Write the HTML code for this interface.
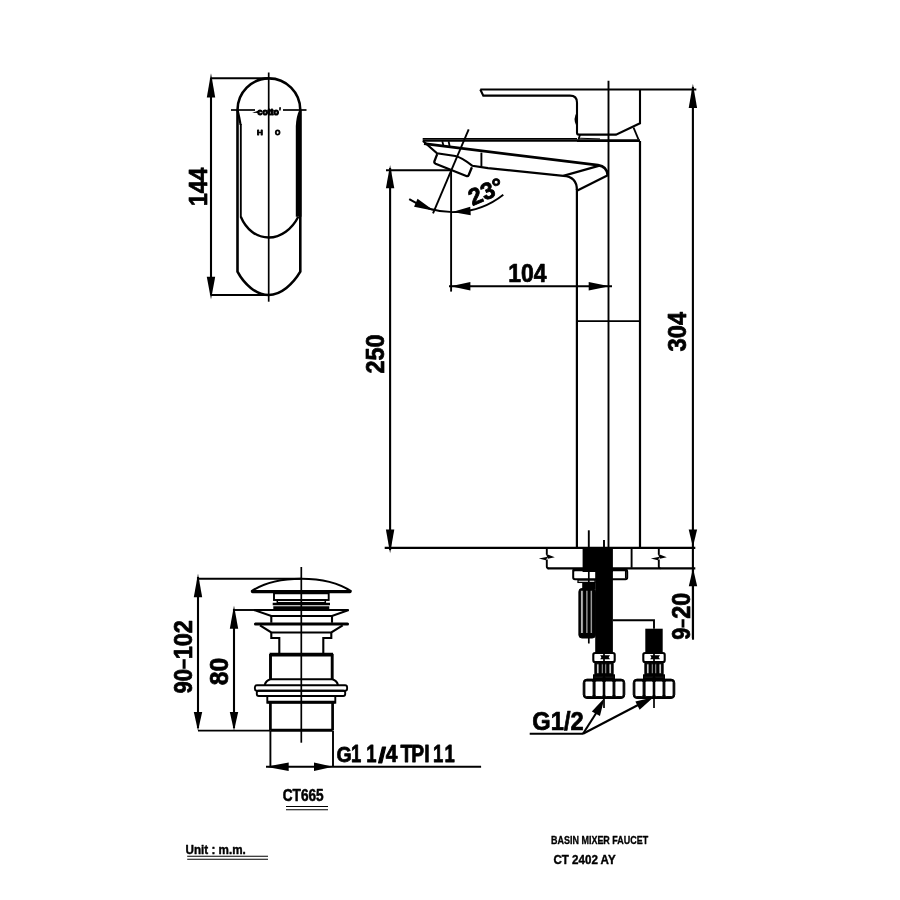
<!DOCTYPE html>
<html><head><meta charset="utf-8"><style>
html,body{margin:0;padding:0;background:#fff;width:900px;height:900px;overflow:hidden}
svg{display:block;filter:grayscale(1)}
text{font-family:"Liberation Sans",sans-serif;fill:#000}
</style></head><body>
<svg width="900" height="900" viewBox="0 0 900 900" stroke="#000" fill="none">
<line x1="211" y1="78" x2="211" y2="295" stroke-width="2.1" stroke-linecap="butt"/>
<path d="M211.00 73.30 L215.20 97.50 L206.80 97.50 Z" fill="#000" stroke="none"/>
<path d="M211.00 299.50 L206.80 276.70 L215.20 276.70 Z" fill="#000" stroke="none"/>
<line x1="210.8" y1="78.3" x2="268.7" y2="78.3" stroke-width="2.1" stroke-linecap="butt"/>
<line x1="210.8" y1="295" x2="268.7" y2="295" stroke-width="2.1" stroke-linecap="butt"/>
<line x1="268.7" y1="72.5" x2="268.7" y2="301.7" stroke-width="1.7" stroke-linecap="butt"/>
<path d="M237.5 110 A31.4 31.6 0 0 1 300.3 110" stroke-width="2.6" fill="none" />
<path d="M237.5 110 L237.5 271.7 C244 284 256 295 268.7 295 C281 295 293 284 300.3 271.7 L300.3 110" stroke-width="2.6" fill="none" />
<path d="M301.5 110 L301.5 216.7 L295.8 216.7 L295.8 126 Q296.3 116 299.3 110 Z" fill="#000" stroke="none"/>
<path d="M236.3 110 L238.7 110 Q240.6 118 241.7 125 L239.6 125 Z" fill="#000" stroke="none"/>
<line x1="240.8" y1="124" x2="240.8" y2="217" stroke-width="1.9" stroke-linecap="butt"/>
<path d="M240.8 216.7 C246 229 256 237.5 268.7 237.5 C281 237.5 292 229 298.3 216.7" stroke-width="2.4" fill="none" />
<line x1="231" y1="110" x2="255" y2="110" stroke-width="1.7" stroke-linecap="butt"/>
<line x1="283" y1="110" x2="306.5" y2="110" stroke-width="1.7" stroke-linecap="butt"/>
<g><text transform="matrix(0.08686 0 0 0.09242 257.553 114.908)" x="0" y="0" font-size="100" font-weight="bold" stroke="#000" stroke-width="13.39" stroke-linejoin="round">cotto</text></g>
<path d="M279.2 107.2 L281 107.2 L280.6 110.5 L279.2 110.5 Z" fill="#000" stroke="none"/>
<path d="M252.2 112.8 L258 110.8 L258 113 Z" fill="#000" stroke="none"/>
<g><text transform="matrix(0.08103 0 0 0.07101 257.083 134.550)" x="0" y="0" font-size="100" font-weight="bold" stroke="#000" stroke-width="11.84" stroke-linejoin="round">H</text></g>
<g><text transform="matrix(0.06857 0 0 0.07465 274.976 134.675)" x="0" y="0" font-size="100" font-weight="bold" stroke="#000" stroke-width="12.57" stroke-linejoin="round">O</text></g>
<g><text transform="matrix(0 -0.23000 0.25797 0 207.150 206.030)" x="0" y="0" font-size="100" font-weight="bold" stroke="#000" stroke-width="2.87" stroke-linejoin="round">144</text></g>
<line x1="480.3" y1="89.5" x2="696.3" y2="89.5" stroke-width="2.1" stroke-linecap="butt"/>
<path d="M480.3 89.5 L483.3 95.6 L570 95.6 Q577 95.6 577 102.5 L577 132.8 Q577 134.6 578.8 134.6 L616 134.6 L640 123.3 L640 89.5" stroke-width="2.1" fill="none" />
<path d="M577 112 Q572.6 118.5 576.2 125.5 L577 125.5 Z" fill="#000" stroke="none"/>
<line x1="580" y1="134.8" x2="578.5" y2="139.5" stroke-width="1.7" stroke-linecap="butt"/>
<line x1="633.5" y1="127.5" x2="638.5" y2="139.5" stroke-width="1.9" stroke-linecap="butt"/>
<line x1="422.7" y1="138.9" x2="577" y2="138.9" stroke-width="1.7" stroke-linecap="butt"/>
<line x1="422.7" y1="140.7" x2="577" y2="140.7" stroke-width="2.0" stroke-linecap="butt"/>
<line x1="577" y1="140.6" x2="640" y2="140.6" stroke-width="2.8" stroke-linecap="butt"/>
<line x1="578" y1="138.2" x2="600" y2="138.9" stroke-width="1.0" stroke-linecap="butt"/>
<line x1="640" y1="141" x2="640" y2="547.5" stroke-width="2.2" stroke-linecap="butt"/>
<line x1="608.5" y1="80.8" x2="608.5" y2="547.5" stroke-width="1.9" stroke-linecap="butt"/>
<line x1="576.9" y1="189" x2="576.9" y2="547.5" stroke-width="2.2" stroke-linecap="butt"/>
<line x1="576.9" y1="321.1" x2="640" y2="321.1" stroke-width="1.9" stroke-linecap="butt"/>
<path d="M424 143.6 L598 165.2 Q607 166.5 607.8 175.3" stroke-width="2.7" fill="none" />
<path d="M607.8 175.3 L576.9 190.8" stroke-width="2.2" fill="none" />
<path d="M599.5 165.6 L563.3 175.8 L488 168.1 L472.4 165.8 C465 160 460 157 455.3 156 L437 153.3 L423 141" stroke-width="2.2" fill="none" />
<path d="M563.3 175.8 Q576.9 176.5 576.9 190" stroke-width="2.2" fill="none" />
<line x1="442.3" y1="141.3" x2="443.3" y2="145.2" stroke-width="1.8" stroke-linecap="butt"/>
<line x1="448.6" y1="141.3" x2="449.6" y2="146.0" stroke-width="1.8" stroke-linecap="butt"/>
<line x1="481.4" y1="152.6" x2="481.4" y2="166.6" stroke-width="1.9" stroke-linecap="butt"/>
<path d="M437.2 154.2 L434.4 161.3 Q434 163 435.6 163.7 L466.3 176 Q468 176.6 468.6 175.2 L471.9 167.3" stroke-width="2.3" fill="none" />
<line x1="468.7" y1="129.3" x2="433" y2="213.3" stroke-width="1.9" stroke-linecap="butt"/>
<line x1="386" y1="170.2" x2="451.1" y2="170.2" stroke-width="1.9" stroke-linecap="butt"/>
<line x1="451.1" y1="170.2" x2="451.1" y2="291.6" stroke-width="1.9" stroke-linecap="butt"/>
<path d="M409.2 199.1 A80.8 80.8 0 0 0 503.3 194.7" stroke-width="1.9" fill="none" />
<path d="M434.00 210.80 L414.07 206.74 L417.53 198.86 Z" fill="#000" stroke="none"/>
<path d="M452.30 212.00 L470.26 206.71 L470.74 215.29 Z" fill="#000" stroke="none"/>
<g transform="rotate(-23 485.7 191.6)">
<g><text transform="matrix(0.23750 0 0 0.23521 467.887 199.715)" x="0" y="0" font-size="100" font-weight="bold" stroke="#000" stroke-width="3.38" stroke-linejoin="round">23°</text></g>
</g>
<line x1="390.1" y1="168" x2="390.1" y2="550" stroke-width="2.1" stroke-linecap="butt"/>
<path d="M390.10 165.00 L394.30 188.30 L385.90 188.30 Z" fill="#000" stroke="none"/>
<path d="M390.10 553.30 L385.90 529.50 L394.30 529.50 Z" fill="#000" stroke="none"/>
<g><text transform="matrix(0 -0.23438 0.25915 0 383.691 373.453)" x="0" y="0" font-size="100" font-weight="bold" stroke="#000" stroke-width="2.84" stroke-linejoin="round">250</text></g>
<line x1="449" y1="286.2" x2="612" y2="286.2" stroke-width="1.9" stroke-linecap="butt"/>
<path d="M450.60 286.20 L470.40 282.00 L470.40 290.40 Z" fill="#000" stroke="none"/>
<path d="M609.50 286.20 L588.70 290.40 L588.70 282.00 Z" fill="#000" stroke="none"/>
<g><text transform="matrix(0.22938 0 0 0.25352 508.274 282.096)" x="0" y="0" font-size="100" font-weight="bold" stroke="#000" stroke-width="2.90" stroke-linejoin="round">104</text></g>
<line x1="692.9" y1="87" x2="692.9" y2="638" stroke-width="2.1" stroke-linecap="butt"/>
<path d="M692.90 83.80 L697.10 108.00 L688.70 108.00 Z" fill="#000" stroke="none"/>
<path d="M692.90 546.90 L688.70 529.60 L697.10 529.60 Z" fill="#000" stroke="none"/>
<g><text transform="matrix(0 -0.23659 0.25352 0 686.396 351.423)" x="0" y="0" font-size="100" font-weight="bold" stroke="#000" stroke-width="2.86" stroke-linejoin="round">304</text></g>
<line x1="384.7" y1="547.9" x2="695.3" y2="547.9" stroke-width="2.3" stroke-linecap="butt"/>
<line x1="547.5" y1="568.3" x2="695.3" y2="568.3" stroke-width="2.3" stroke-linecap="butt"/>
<line x1="693" y1="570" x2="693" y2="639.7" stroke-width="2.1" stroke-linecap="butt"/>
<path d="M693.00 568.20 L697.20 586.30 L688.80 586.30 Z" fill="#000" stroke="none"/>
<g><text transform="matrix(0 -0.23365 0.25775 0 690.392 618.651)" x="0" y="0" font-size="100" font-weight="bold" stroke="#000" stroke-width="2.85" stroke-linejoin="round">20</text></g>
<g><text transform="matrix(0 -0.21458 0.25775 0 690.392 639.808)" x="0" y="0" font-size="100" font-weight="bold" stroke="#000" stroke-width="2.96" stroke-linejoin="round">9</text></g>
<path d="M681.6 619.2 L684.4 619.2 L684.4 627.6 L681.6 627.6 Z" fill="#000" stroke="none"/>
<path d="M546.8 548 L546.8 554.5" stroke-width="1.9" fill="none" />
<path d="M546.8 559.5 L546.8 566.5 Q546.8 568.3 548.5999999999999 568.3" stroke-width="1.9" fill="none" />
<path d="M545.8 553.8 L554.8 557.3 L547.8 558.7 Z" fill="#000" stroke="none"/>
<path d="M547.8 556.8 L538.8 558.4 L545.8 560.3 Z" fill="#000" stroke="none"/>
<path d="M658.8 548 L658.8 554.5" stroke-width="1.9" fill="none" />
<path d="M658.8 559.5 L658.8 566.5 Q658.8 568.3 660.5999999999999 568.3" stroke-width="1.9" fill="none" />
<path d="M657.8 553.8 L666.8 557.3 L659.8 558.7 Z" fill="#000" stroke="none"/>
<path d="M659.8 556.8 L650.8 558.4 L657.8 560.3 Z" fill="#000" stroke="none"/>
<line x1="588.8" y1="530.3" x2="588.8" y2="547.5" stroke-width="1.9" stroke-linecap="butt"/>
<line x1="604" y1="540.1" x2="604" y2="547.5" stroke-width="1.9" stroke-linecap="butt"/>
<path d="M582.6 547.5 L612.9 547.5 L612.9 568.5 L582.6 568.5 Z" fill="#000" stroke="none"/>
<line x1="631.6" y1="548" x2="631.6" y2="567.8" stroke-width="1.9" stroke-linecap="butt"/>
<rect x="573.2" y="570" width="54" height="9.3" rx="1.8" stroke-width="2.0" fill="#fff"/>
<path d="M572.5 568.3 L627.5 568.3 L627.5 571.3 L572.5 571.3 Z" fill="#000" stroke="none"/>
<path d="M582.6 568 L612.9 568 L612.9 572 L582.6 572 Z" fill="#000" stroke="none"/>
<line x1="588.8" y1="568" x2="588.8" y2="582" stroke-width="1.7" stroke-linecap="butt"/>
<line x1="625.6" y1="571" x2="625.6" y2="578.5" stroke-width="1.3" stroke-linecap="butt"/>
<rect x="578" y="580" width="17" height="2.4" rx="0" stroke-width="1.3" fill="none"/>
<path d="M595.2 568 L612.9 568 L612.9 652.5 L595.2 652.5 Z" fill="#000" stroke="none"/>
<path d="M582.2 582.2 L595.4 582.2 L595.4 589 L582.2 589 Z" fill="#000" stroke="none"/>
<rect x="578.9" y="588.5" width="16.5" height="49.5" rx="3" fill="#000"/>
<rect x="580.8" y="590.2" width="2.3" height="43.3" fill="#fff"/>
<rect x="586.0" y="590.2" width="1.9" height="43.3" fill="#fff"/>
<rect x="590.2" y="590.2" width="1.9" height="43.3" fill="#fff"/>
<line x1="588.8" y1="620" x2="588.8" y2="643.5" stroke-width="1.7" stroke-linecap="butt"/>
<path d="M612.9 620.2 L654 620.2 L654 628.7" stroke-width="1.9" fill="none" />
<path d="M645.3 628.7 L662.7 628.7 L662.7 652.5 L645.3 652.5 Z" fill="#000" stroke="none"/>
<rect x="593.3" y="653" width="21.4" height="9" rx="1.8" stroke-width="2.1" fill="#fff"/>
<path d="M600.2 655.2 L610 655.2 L608.7 657.2 L610 659.3 L600.2 659.3 L601.4 657.2 Z" fill="#000" stroke="none"/>
<path d="M594.3 662.5 L613.7 662.5 L613.7 675 L594.3 675 Z" fill="#000" stroke="none"/>
<rect x="596.7" y="663.8" width="2.3" height="10" fill="#fff"/>
<rect x="601.3" y="663.8" width="1.7" height="10" fill="#fff"/>
<rect x="605.0" y="663.8" width="1.7" height="10" fill="#fff"/>
<rect x="609.0" y="663.8" width="2.3" height="10" fill="#fff"/>
<path d="M593 674.3 L615 674.3 L615 679.5 L593 679.5 Z" fill="#000" stroke="none"/>
<rect x="594.7" y="676.6" width="8.3" height="1.1" fill="#fff"/>
<rect x="605" y="676.6" width="8.3" height="1.1" fill="#fff"/>
<rect x="583.2" y="679.1" width="41.6" height="19.4" rx="3.8" fill="#000"/>
<rect x="584.90" y="681.0" width="8.20" height="15.6" rx="1.7" ry="1.5" fill="#fff"/>
<rect x="595.05" y="681.0" width="8.15" height="15.6" rx="1.7" ry="1.5" fill="#fff"/>
<rect x="604.80" y="681.0" width="8.25" height="15.6" rx="1.7" ry="1.5" fill="#fff"/>
<rect x="614.90" y="681.0" width="8.20" height="15.6" rx="1.7" ry="1.5" fill="#fff"/>
<line x1="604" y1="652" x2="604" y2="708" stroke-width="1.7" stroke-linecap="butt"/>
<rect x="643.3" y="653" width="21.4" height="9" rx="1.8" stroke-width="2.1" fill="#fff"/>
<path d="M650.2 655.2 L660 655.2 L658.7 657.2 L660 659.3 L650.2 659.3 L651.4 657.2 Z" fill="#000" stroke="none"/>
<path d="M644.3 662.5 L663.7 662.5 L663.7 675 L644.3 675 Z" fill="#000" stroke="none"/>
<rect x="646.7" y="663.8" width="2.3" height="10" fill="#fff"/>
<rect x="651.3" y="663.8" width="1.7" height="10" fill="#fff"/>
<rect x="655.0" y="663.8" width="1.7" height="10" fill="#fff"/>
<rect x="659.0" y="663.8" width="2.3" height="10" fill="#fff"/>
<path d="M643 674.3 L665 674.3 L665 679.5 L643 679.5 Z" fill="#000" stroke="none"/>
<rect x="644.7" y="676.6" width="8.3" height="1.1" fill="#fff"/>
<rect x="655" y="676.6" width="8.3" height="1.1" fill="#fff"/>
<rect x="633.2" y="679.1" width="41.6" height="19.4" rx="3.8" fill="#000"/>
<rect x="634.90" y="681.0" width="8.20" height="15.6" rx="1.7" ry="1.5" fill="#fff"/>
<rect x="645.05" y="681.0" width="8.15" height="15.6" rx="1.7" ry="1.5" fill="#fff"/>
<rect x="654.80" y="681.0" width="8.25" height="15.6" rx="1.7" ry="1.5" fill="#fff"/>
<rect x="664.90" y="681.0" width="8.20" height="15.6" rx="1.7" ry="1.5" fill="#fff"/>
<line x1="654" y1="652" x2="654" y2="708" stroke-width="1.7" stroke-linecap="butt"/>
<line x1="529.7" y1="733.7" x2="583" y2="733.7" stroke-width="2.1" stroke-linecap="butt"/>
<line x1="583" y1="733.7" x2="597.5" y2="711" stroke-width="2.1" stroke-linecap="butt"/>
<line x1="583" y1="733.7" x2="639" y2="704.5" stroke-width="2.1" stroke-linecap="butt"/>
<path d="M604.40 698.00 L599.95 715.98 L591.85 711.62 Z" fill="#000" stroke="none"/>
<path d="M653.50 697.20 L639.64 709.67 L635.36 701.53 Z" fill="#000" stroke="none"/>
<g><text transform="matrix(0.23684 0 0 0.25946 532.303 729.691)" x="0" y="0" font-size="100" font-weight="bold" stroke="#000" stroke-width="2.82" stroke-linejoin="round">G1/2</text></g>
<line x1="198" y1="577" x2="198" y2="728" stroke-width="2.1" stroke-linecap="butt"/>
<path d="M198.00 573.80 L202.20 597.30 L193.80 597.30 Z" fill="#000" stroke="none"/>
<path d="M198.00 730.80 L193.80 712.00 L202.20 712.00 Z" fill="#000" stroke="none"/>
<line x1="198" y1="578.7" x2="301.3" y2="578.7" stroke-width="1.9" stroke-linecap="butt"/>
<line x1="234" y1="609" x2="234" y2="728" stroke-width="2.1" stroke-linecap="butt"/>
<path d="M234.00 605.80 L238.20 628.80 L229.80 628.80 Z" fill="#000" stroke="none"/>
<path d="M234.00 730.80 L229.80 712.00 L238.20 712.00 Z" fill="#000" stroke="none"/>
<line x1="234" y1="610" x2="262" y2="610" stroke-width="1.9" stroke-linecap="butt"/>
<line x1="198" y1="730.6" x2="270.4" y2="730.6" stroke-width="1.9" stroke-linecap="butt"/>
<line x1="301.3" y1="567" x2="301.3" y2="742.7" stroke-width="1.7" stroke-linecap="butt"/>
<g><text transform="matrix(0 -0.23503 0.25775 0 192.192 659.260)" x="0" y="0" font-size="100" font-weight="bold" stroke="#000" stroke-width="2.84" stroke-linejoin="round">102</text></g>
<g><text transform="matrix(0 -0.22039 0.25775 0 192.192 693.532)" x="0" y="0" font-size="100" font-weight="bold" stroke="#000" stroke-width="2.93" stroke-linejoin="round">90</text></g>
<path d="M182.6 659.2 L185.6 659.2 L185.6 668.8 L182.6 668.8 Z" fill="#000" stroke="none"/>
<g><text transform="matrix(0 -0.24808 0.26479 0 228.185 685.194)" x="0" y="0" font-size="100" font-weight="bold" stroke="#000" stroke-width="2.73" stroke-linejoin="round">80</text></g>
<path d="M251.3 591.3 C263 583.5 280 578.7 301.3 578.7 C322.6 578.7 339.6 583.5 351.3 591.3" stroke-width="2.1" fill="none" />
<line x1="252.5" y1="591.6" x2="350" y2="591.6" stroke-width="3.3" stroke-linecap="round"/>
<rect x="274" y="593.3" width="54.7" height="6.7" rx="0" stroke-width="1.9" fill="none"/>
<rect x="277.3" y="600" width="48" height="2.7" rx="0" stroke-width="1.5" fill="none"/>
<line x1="272.7" y1="604" x2="330" y2="604" stroke-width="2.3" stroke-linecap="butt"/>
<path d="M273.3 606.3 L329.3 606.3 L329.3 610 L273.3 610 Z" fill="#000" stroke="none"/>
<path d="M254 610 L348.7 610 L332 616 L271.3 616 Z" stroke-width="2.1" fill="none" />
<path d="M271.3 616 L271.3 622.7 M332 616 L332 622.7" stroke-width="2.1" fill="none" />
<line x1="255.5" y1="624" x2="347.5" y2="624" stroke-width="3.1" stroke-linecap="round"/>
<path d="M260 625.3 L271.3 632.5 L331.3 632.5 L342.7 625.3" stroke-width="2.1" fill="none" />
<path d="M271.3 632.5 L271.3 638 L279.3 638 L279.3 653.5 M331.3 632.5 L331.3 638 L323.3 638 L323.3 653.5" stroke-width="2.1" fill="none" />
<line x1="269.6" y1="654.6" x2="333.1" y2="654.6" stroke-width="3.7" stroke-linecap="butt"/>
<path d="M270.5 654 L270.5 679.3 M332.2 654 L332.2 679.3" stroke-width="2.9" fill="none" />
<path d="M270.4 679.3 L332.3 679.3 M270.4 679.3 Q266 680.5 264.7 685 M332.3 679.3 Q336.7 680.5 338 685" stroke-width="2.1" fill="none" />
<rect x="254.9" y="685.3" width="92.2" height="5.4" rx="2" stroke-width="1.9" fill="none"/>
<rect x="256.8" y="690.7" width="88.4" height="5.3" rx="2" stroke-width="1.9" fill="none"/>
<rect x="267.3" y="696" width="68" height="6.7" rx="0" stroke-width="1.9" fill="none"/>
<line x1="267.3" y1="702.2" x2="335.3" y2="702.2" stroke-width="2.7" stroke-linecap="butt"/>
<path d="M270.4 702.7 L270.4 730.5 M332.6 702.7 L332.6 730.5" stroke-width="2.7" fill="none" />
<line x1="270.4" y1="730.2" x2="332.6" y2="730.2" stroke-width="3.1" stroke-linecap="butt"/>
<line x1="270.4" y1="731" x2="270.4" y2="766" stroke-width="1.9" stroke-linecap="butt"/>
<line x1="333" y1="731" x2="333" y2="766" stroke-width="1.9" stroke-linecap="butt"/>
<line x1="266" y1="766.8" x2="481.1" y2="766.8" stroke-width="1.9" stroke-linecap="butt"/>
<path d="M265.80 766.80 L288.70 762.60 L288.70 771.00 Z" fill="#000" stroke="none"/>
<path d="M333.00 766.80 L314.00 771.00 L314.00 762.60 Z" fill="#000" stroke="none"/>
<g><text transform="matrix(0.19559 0 0 0.22958 336.568 762.220)" x="0" y="0" font-size="100" font-weight="bold" stroke="#000" stroke-width="3.29" stroke-linejoin="round">G</text></g>
<g><text transform="matrix(0.18435 0 0 0.23043 351.062 762.250)" x="0" y="0" font-size="100" font-weight="bold" stroke="#000" stroke-width="3.38" stroke-linejoin="round">1</text></g>
<g><text transform="matrix(0.18435 0 0 0.23043 366.162 762.250)" x="0" y="0" font-size="100" font-weight="bold" stroke="#000" stroke-width="3.38" stroke-linejoin="round">1</text></g>
<g><text transform="matrix(0.27568 0 0 0.22973 378.241 762.620)" x="0" y="0" font-size="100" font-weight="bold" stroke="#000" stroke-width="4.35" stroke-linejoin="round">/</text></g>
<g><text transform="matrix(0.21132 0 0 0.23043 385.727 762.250)" x="0" y="0" font-size="100" font-weight="bold" stroke="#000" stroke-width="3.17" stroke-linejoin="round">4</text></g>
<g><text transform="matrix(0.19661 0 0 0.23043 400.553 762.250)" x="0" y="0" font-size="100" font-weight="bold" stroke="#000" stroke-width="3.28" stroke-linejoin="round">T</text></g>
<g><text transform="matrix(0.19259 0 0 0.23043 411.302 762.250)" x="0" y="0" font-size="100" font-weight="bold" stroke="#000" stroke-width="3.31" stroke-linejoin="round">PI</text></g>
<g><text transform="matrix(0.18435 0 0 0.23043 433.062 762.250)" x="0" y="0" font-size="100" font-weight="bold" stroke="#000" stroke-width="3.38" stroke-linejoin="round">1</text></g>
<g><text transform="matrix(0.18435 0 0 0.23043 444.462 762.250)" x="0" y="0" font-size="100" font-weight="bold" stroke="#000" stroke-width="3.38" stroke-linejoin="round">1</text></g>
<g><text transform="matrix(0.13652 0 0 0.16197 282.704 800.588)" x="0" y="0" font-size="100" font-weight="bold" stroke="#000" stroke-width="3.35" stroke-linejoin="round">CT665</text></g>
<line x1="286" y1="806.5" x2="328" y2="806.5" stroke-width="1.1" stroke-linecap="butt"/>
<line x1="286" y1="809.7" x2="328" y2="809.7" stroke-width="1.1" stroke-linecap="butt"/>
<g><text transform="matrix(0.11687 0 0 0.12703 185.499 854.173)" x="0" y="0" font-size="100" font-weight="bold" stroke="#000" stroke-width="3.28" stroke-linejoin="round">Unit : m.m.</text></g>
<line x1="187.2" y1="856.3" x2="268" y2="856.3" stroke-width="1.1" stroke-linecap="butt"/>
<line x1="187.2" y1="859.3" x2="268" y2="859.3" stroke-width="1.1" stroke-linecap="butt"/>
<g><text transform="matrix(0.08967 0 0 0.10845 551.122 843.542)" x="0" y="0" font-size="100" font-weight="bold" stroke="#000" stroke-width="3.03" stroke-linejoin="round">BASIN MIXER FAUCET</text></g>
<g><text transform="matrix(0.11598 0 0 0.12676 553.436 864.373)" x="0" y="0" font-size="100" font-weight="bold" stroke="#000" stroke-width="3.30" stroke-linejoin="round">CT 2402 AY</text></g>
</svg>
</body></html>
